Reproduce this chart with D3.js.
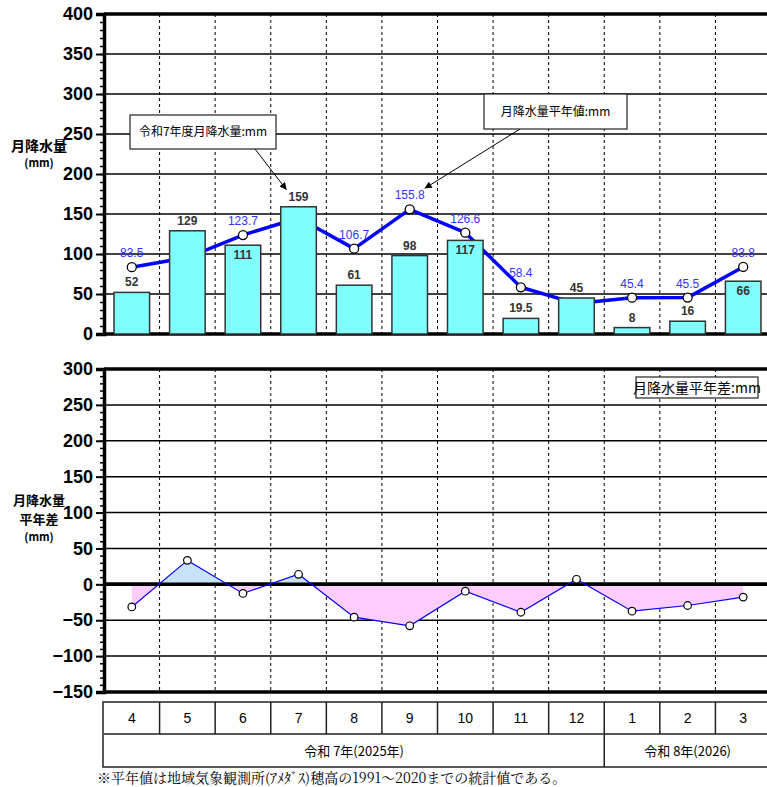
<!DOCTYPE html>
<html>
<head>
<meta charset="utf-8">
<script src="https://cdn.jsdelivr.net/npm/d3@7"></script>
<style>
  body { margin: 0; background: #fff; }
  svg { display: block; }
  .tick text { font-family: "Liberation Sans Narrow", "Liberation Sans", Arial, sans-serif; font-weight: bold; }
</style>
</head>
<body>
<svg id="chart" width="767" height="787"></svg>
<script>
// months of fiscal year R7
var months = ["4", "5", "6", "7", "8", "9", "10", "11", "12", "1", "2", "3"];
// monthly rainfall (mm)
var rain = [52, 129, 111, 159, 61, 98, 117, 19.5, 45, 8, 16, 66];
var rainLabels = ["52", "129", "111", "159", "61", "98", "117", "19.5", "45", "8", "16", "66"];
// normal (1991-2020)
var normal = [83.5, 95.6, 123.7, 145, 106.7, 155.8, 126.6, 58.4, 38, 45.4, 45.5, 83.8];
// difference from normal
var diff = [-31.5, 33.4, -12.7, 14, -45.7, -57.8, -9.6, -38.9, 7, -37.4, -29.5, -17.8];

var topTicks = [0, 50, 100, 150, 200, 250, 300, 350, 400];
var botTicks = [-150, -100, -50, 0, 50, 100, 150, 200, 250, 300];
var yearGroups = [
    {label: "令和 7年(2025年)", from: 0, to: 8},
    {label: "令和 8年(2026)", from: 9, to: 11}
];

var svg = d3.select("#chart");
var left = 104, right = 771;

var xc = d3.scaleBand().domain(months).range([left, right]);
var xb = d3.scaleBand().domain(months).range([left, right]).paddingInner(0.36).paddingOuter(0.18);
var cx = function (m) { return xc(m) + xc.bandwidth() / 2; };

var yTop = d3.scaleLinear().domain([0, 400]).range([334, 14]);
var yBot = d3.scaleLinear().domain([-150, 300]).range([692, 369]);

var numFont = '"Liberation Sans", Arial, sans-serif';
var jpFont = '"Noto Sans CJK JP", sans-serif';

// draw grid + axes for one panel
function panel(y, ticks, minorStep) {
    var g = svg.append("g");
    var d = y.domain();
    // horizontal grid
    g.selectAll(".grid").data(ticks).enter().append("line")
        .attr("x1", left).attr("x2", right)
        .attr("y1", function (v) { return y(v); })
        .attr("y2", function (v) { return y(v); })
        .attr("stroke", "#000")
        .attr("stroke-width", function (v) { return (v === d[1] || v === 0 || v === d[0]) ? 3.5 : 1.5; });
    // vertical dashed column lines
    g.selectAll(".vgrid").data(months.slice(1)).enter().append("line")
        .attr("x1", function (m) { return xc(m); })
        .attr("x2", function (m) { return xc(m); })
        .attr("y1", y(d[1])).attr("y2", y(d[0]))
        .attr("stroke", "#000").attr("stroke-width", 1)
        .attr("stroke-dasharray", "3,3");
    // minor ticks
    g.append("g").attr("transform", "translate(" + left + ",0)")
        .call(d3.axisLeft(y).tickValues(d3.range(d[0], d[1] + 1, minorStep)).tickSize(4).tickFormat(""))
        .call(function (a) { a.select(".domain").remove(); })
        .selectAll("line").attr("stroke-width", 1.5);
    // major ticks and labels
    var ax = g.append("g").attr("transform", "translate(" + left + ",0)")
        .call(d3.axisLeft(y).tickValues(ticks).tickSize(8).tickPadding(3)
            .tickFormat(function (v) { return v < 0 ? "\u2212" + Math.abs(v) : v; }));
    ax.select(".domain").attr("stroke-width", 3.5);
    ax.selectAll(".tick line").attr("stroke-width", 2);
    ax.selectAll(".tick text").attr("font-size", 18).attr("fill", "#000");
    return g;
}

panel(yTop, topTicks, 10);
panel(yBot, botTicks, 10);

// ---------- top panel ----------
var line = d3.line()
    .x(function (d, i) { return cx(months[i]); })
    .y(function (d) { return yTop(d); });

svg.append("path").datum(normal)
    .attr("fill", "none").attr("stroke", "#0000ff").attr("stroke-width", 3.5)
    .attr("stroke-linejoin", "round")
    .attr("d", line);

svg.selectAll(".npt").data(normal).enter().append("circle")
    .attr("cx", function (d, i) { return cx(months[i]); })
    .attr("cy", function (d) { return yTop(d); })
    .attr("r", 4.5)
    .attr("fill", "#fff").attr("stroke", "#000").attr("stroke-width", 1.3);

svg.selectAll(".bar").data(rain).enter().append("rect")
    .attr("x", function (d, i) { return xb(months[i]); })
    .attr("y", function (d) { return yTop(d); })
    .attr("width", xb.bandwidth())
    .attr("height", function (d) { return yTop(0) - yTop(d); })
    .attr("fill", "#80ffff").attr("stroke", "#333").attr("stroke-width", 1.5);

// rainfall labels: inside the bar when the normal point sits just above
svg.selectAll(".rl").data(rain).enter().append("text")
    .attr("x", function (d, i) { return cx(months[i]); })
    .attr("y", function (d, i) {
        var inside = normal[i] > d && normal[i] - d < 25;
        return inside ? yTop(d) + 14 : yTop(d) - 6;
    })
    .attr("text-anchor", "middle")
    .attr("font-family", numFont).attr("font-size", 12).attr("font-weight", "bold")
    .attr("fill", "#333")
    .text(function (d, i) { return rainLabels[i]; });

// normal labels (only where the point is visible)
svg.selectAll(".nl").data(normal).enter().filter(function (d, i) { return d > rain[i]; })
    .append("text")
    .attr("x", function (d) { var i = normal.indexOf(d); return cx(months[i]); })
    .attr("y", function (d) { return yTop(d) - 10; })
    .attr("text-anchor", "middle")
    .attr("font-family", numFont).attr("font-size", 12)
    .attr("fill", "#3333ff")
    .text(function (d) { return d.toFixed(1); });

// axis titles
function title(x, y, size, txt) {
    svg.append("text").attr("x", x).attr("y", y).attr("text-anchor", "middle")
        .attr("font-family", jpFont).attr("font-size", size).attr("font-weight", "bold")
        .text(txt);
}
title(39, 151, 14, "月降水量");
title(39, 167, 11, "(mm)");

// arrow marker
svg.append("defs").append("marker")
    .attr("id", "arr").attr("viewBox", "0 0 10 10")
    .attr("refX", 10).attr("refY", 5)
    .attr("markerWidth", 9).attr("markerHeight", 7)
    .attr("markerUnits", "userSpaceOnUse")
    .attr("orient", "auto")
    .append("path").attr("d", "M0,0L10,5L0,10z").attr("fill", "#000");

function callout(x, y, w, h, label, fs, ax, ay, tx, ty) {
    if (ax !== null) {
        svg.append("line").attr("x1", ax).attr("y1", ay).attr("x2", tx).attr("y2", ty)
            .attr("stroke", "#000").attr("stroke-width", 1)
            .attr("marker-end", "url(#arr)");
    }
    svg.append("rect").attr("x", x).attr("y", y).attr("width", w).attr("height", h)
        .attr("fill", "#fff").attr("stroke", "#222").attr("stroke-width", 1.2);
    svg.append("text").attr("x", x + w / 2).attr("y", y + h / 2 + fs * 0.36)
        .attr("text-anchor", "middle")
        .attr("font-family", jpFont).attr("font-size", fs)
        .text(label);
}

callout(130, 115, 146, 34, "令和7年度月降水量:mm", 12,
    255, 149, cx("7") - 12, yTop(159) - 17);
callout(484, 94, 143, 35, "月降水量平年値:mm", 12,
    520, 129, cx("9") + 15, yTop(155.8) - 21);

// ---------- bottom panel ----------
var clip = svg.append("defs");
clip.append("clipPath").attr("id", "pos").append("rect")
    .attr("x", left).attr("y", yBot(300)).attr("width", right - left).attr("height", yBot(0) - yBot(300));
clip.append("clipPath").attr("id", "neg").append("rect")
    .attr("x", left).attr("y", yBot(0)).attr("width", right - left).attr("height", yBot(-150) - yBot(0));

var area = d3.area()
    .x(function (d, i) { return cx(months[i]); })
    .y0(yBot(0))
    .y1(function (d) { return yBot(d); });

svg.append("path").datum(diff).attr("d", area).attr("fill", "#c8e2f8").attr("clip-path", "url(#pos)");
svg.append("path").datum(diff).attr("d", area).attr("fill", "#ffccff").attr("clip-path", "url(#neg)");

// redraw zero line over the fill
svg.append("line").attr("x1", left).attr("x2", right)
    .attr("y1", yBot(0)).attr("y2", yBot(0))
    .attr("stroke", "#000").attr("stroke-width", 3.5);

svg.append("path").datum(diff)
    .attr("fill", "none").attr("stroke", "#0000ff").attr("stroke-width", 1.2)
    .attr("d", d3.line()
        .x(function (d, i) { return cx(months[i]); })
        .y(function (d) { return yBot(d); }));

svg.selectAll(".dpt").data(diff).enter().append("circle")
    .attr("cx", function (d, i) { return cx(months[i]); })
    .attr("cy", function (d) { return yBot(d); })
    .attr("r", 3.8)
    .attr("fill", "#fff").attr("stroke", "#000").attr("stroke-width", 1.2);

callout(636, 377, 122, 21, "月降水量平年差:mm", 14, null);

title(39, 505, 13, "月降水量");
title(39, 524, 13, "平年差");
title(39, 541, 11, "(mm)");

// ---------- month table ----------
var tTop = 702, tMid = 734, tBot = 767;
var tbl = svg.append("g");
tbl.append("rect").attr("x", left - 1).attr("y", tTop).attr("width", right - left + 1).attr("height", tBot - tTop)
    .attr("fill", "none").attr("stroke", "#222").attr("stroke-width", 1.5);
tbl.append("line").attr("x1", left).attr("x2", right).attr("y1", tMid).attr("y2", tMid)
    .attr("stroke", "#222").attr("stroke-width", 1.5);
tbl.selectAll(".cd").data(months.slice(1)).enter().append("line")
    .attr("x1", function (m) { return xc(m); })
    .attr("x2", function (m) { return xc(m); })
    .attr("y1", tTop)
    .attr("y2", function (m) { return m === "1" ? tBot : tMid; })
    .attr("stroke", "#222").attr("stroke-width", 1.5);
tbl.selectAll(".ml").data(months).enter().append("text")
    .attr("x", function (m) { return cx(m); })
    .attr("y", tTop + 21)
    .attr("text-anchor", "middle")
    .attr("font-family", numFont).attr("font-size", 14)
    .text(function (m) { return m; });
tbl.selectAll(".yl").data(yearGroups).enter().append("text")
    .attr("x", function (g) { return (xc(months[g.from]) + xc(months[g.to]) + xc.bandwidth()) / 2; })
    .attr("y", (tMid + tBot) / 2 + 5)
    .attr("text-anchor", "middle")
    .attr("font-family", jpFont).attr("font-size", 13)
    .text(function (g) { return g.label; });

svg.append("text").attr("x", 97).attr("y", 783)
    .attr("font-family", '"Noto Serif CJK JP", "Noto Sans CJK JP", serif').attr("font-size", 14)
    .text("※平年値は地域気象観測所(ｱﾒﾀﾞｽ)穂高の1991～2020までの統計値である。");
</script>
</body>
</html>
